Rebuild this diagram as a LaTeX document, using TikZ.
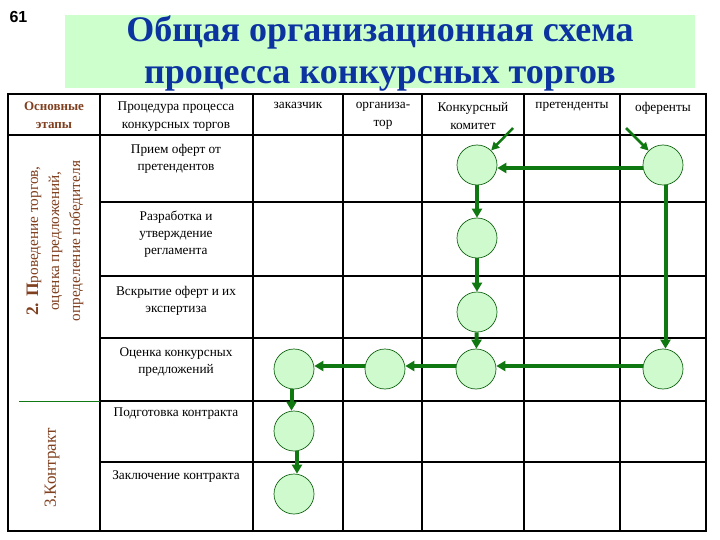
\documentclass[tikz,border=0pt]{standalone}
\usepackage{fontspec}
\setmainfont{Liberation Serif}
\newfontfamily\sansbold{Liberation Sans}
\usetikzlibrary{arrows.meta}
\definecolor{titleblue}{RGB}{12,52,160}
\definecolor{titlebg}{RGB}{204,255,204}
\definecolor{brownt}{RGB}{128,64,32}
\definecolor{arrowgreen}{RGB}{16,120,16}
\definecolor{circfill}{RGB}{206,250,206}
\definecolor{circline}{RGB}{20,100,20}
\begin{document}
\begin{tikzpicture}[x=1pt,y=-1pt,
  stagec/.style={circle, minimum size=40pt, inner sep=0pt, fill=circfill, draw=circline, line width=0.7pt},
  flow/.style={draw=arrowgreen, line width=4pt, -{Triangle[length=9pt,width=10pt]}},
  flowthin/.style={draw=arrowgreen, line width=2.5pt, -{Triangle[length=8pt,width=8pt]}},
  grid/.style={draw=black, line width=1.2pt},
  celltxt/.style={anchor=north, align=center, inner sep=0pt, font=\fontsize{13.3}{17}\selectfont},
  headtxt/.style={anchor=north, align=center, inner sep=0pt, font=\fontsize{13.3}{18}\selectfont}]
\useasboundingbox (0,0) rectangle (720,540);
\fill[white] (0,0) rectangle (720,540);
% title
\fill[titlebg] (65,15) rectangle (695,88);
\node[font=\sansbold\bfseries\fontsize{16}{18}\selectfont, anchor=west] (num) at (6,17) {61};
\node[titleblue, font=\bfseries\fontsize{36}{42}\selectfont, align=center] (title) at (380,54) {Общая организационная схема\\процесса конкурсных торгов};
% table grid
\foreach \x in {100,253,343,422,524,620} \draw[grid] (\x,94) -- (\x,531);
\draw[grid] (8,135) -- (706,135);
\foreach \y in {202,276,338,401,462} \draw[grid] (100,\y) -- (706,\y);
\draw[draw=black, line width=2.5pt] (8,94) rectangle (706,531);
\draw[arrowgreen, line width=0.8pt] (19,401) -- (100,401);
% header texts
\node[headtxt, brownt, font=\bfseries\fontsize{13}{18}\selectfont] (h0) at (54,102) {Основные\\этапы};
\node[headtxt] (h1) at (176,102) {Процедура процесса\\конкурсных торгов};
\node[headtxt] (h2) at (298,102) {заказчик};
\node[headtxt] (h3) at (383,102) {организа-\\тор};
\node[headtxt] (h4) at (473,102) {Конкурсный\\комитет};
\node[headtxt] (h5) at (572,102) {претенденты};
\node[headtxt] (h6) at (663,102) {оференты};
% stage texts
\node[rotate=90, brownt, align=center, font=\fontsize{15.3}{21}\selectfont] (st2) at (55,241) {{\bfseries\fontsize{17.5}{21}\selectfont 2. П}роведение торгов,\\оценка предложений,\\определение победителя};
\node[rotate=90, brownt, font=\fontsize{17}{20}\selectfont] (st3) at (52,468) {3.Контракт};
% procedure texts
\node[celltxt] (p1) at (176,144) {Прием оферт от\\претендентов};
\node[celltxt] (p2) at (176,211) {Разработка и\\утверждение\\регламента};
\node[celltxt] (p3) at (176,286) {Вскрытие оферт и их\\экспертиза};
\node[celltxt] (p4) at (176,347) {Оценка конкурсных\\предложений};
\node[celltxt] (p5) at (176,408) {Подготовка контракта};
\node[celltxt] (p6) at (176,470) {Заключение контракта};
% circles
\node[stagec] (k1) at (477,165) {};
\node[stagec] (o1) at (663,165) {};
\node[stagec] (k2) at (477,238) {};
\node[stagec] (k3) at (477,312) {};
\node[stagec] (z4) at (294,369) {};
\node[stagec] (r4) at (385,369) {};
\node[stagec] (k4) at (476,369) {};
\node[stagec] (o4) at (663,369) {};
\node[stagec] (z5) at (294,431) {};
\node[stagec] (z6) at (294,494) {};
% free ends
\coordinate (d1) at (513,128);
\coordinate (d2) at (626,128);
% connectors
\draw[flowthin] (d1) -- (k1);
\draw[flowthin] (d2) -- (o1);
\draw[flow] ([yshift=-3pt]o1.west) -- ([yshift=-3pt]k1.east);
\draw[flow] (k1) -- (k2);
\draw[flow] (k2) -- (k3);
\draw[flow] (k3) -- (k4);
\draw[flow] ([xshift=2.5pt]o1.south) -- ([xshift=2.5pt]o4.north);
\draw[flow] ([yshift=3pt]o4.west) -- ([yshift=3pt]k4.east);
\draw[flow] ([yshift=3pt]k4.west) -- ([yshift=3pt]r4.east);
\draw[flow] ([yshift=3pt]r4.west) -- ([yshift=3pt]z4.east);
\draw[flow] ([xshift=-2.5pt]z4.south) -- ([xshift=-2.5pt]z5.north);
\draw[flow] ([xshift=3pt]z5.south) -- ([xshift=3pt]z6.north);
\end{tikzpicture}
\end{document}
